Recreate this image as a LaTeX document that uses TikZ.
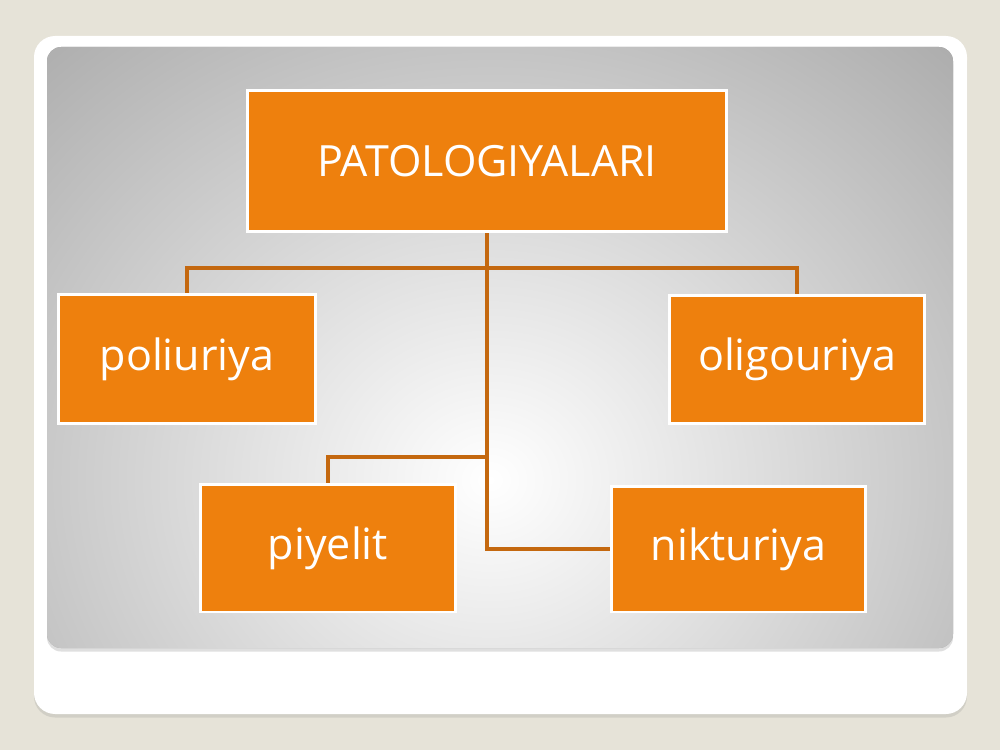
\documentclass[tikz,border=0pt]{standalone}
\usepackage{fontspec}
\setmainfont{Open Sans}
\usetikzlibrary{shadows}

\definecolor{slidebg}{HTML}{E6E3D8}
\definecolor{boxorange}{HTML}{EE800D}
\definecolor{linkbrown}{HTML}{C4680F}
\definecolor{panelgray}{HTML}{A2A2A2}

\tikzset{
  box/.style={draw=white, line width=1.7pt, fill=boxorange, text=white,
    font=\fontsize{24.5}{29}\selectfont, inner sep=0pt},
  link/.style={draw=linkbrown, line width=2.3pt}
}

\begin{document}
\begin{tikzpicture}[x=0.02cm, y=-0.02cm]
  % Slide background
  \fill[slidebg] (0,0) rectangle (1000,750);
  \useasboundingbox (0,0) rectangle (1000,750);

  % White panel
  \fill[white, rounded corners=12, drop shadow={opacity=0.2, shadow xshift=0pt, shadow yshift=-2pt}]
    (34,36) rectangle (967,714);

  % Gray panel with a light centre
  \fill[panelgray, drop shadow={opacity=0.25, shadow xshift=0pt, shadow yshift=-2pt}, rounded corners=8]
    (47,47) rectangle (953,648);
  \begin{scope}
    \clip[rounded corners=8] (47,47) rectangle (953,648);
    \shade[inner color=white, outer color=panelgray] (-270,-200) rectangle (1250,1160);
  \end{scope}

  % Boxes
  \node[box, minimum width=9.6cm, minimum height=2.84cm] (pat) at (487,161) {PATOLOGIYALARI};
  \node[box, minimum width=5.16cm, minimum height=2.6cm] (pol) at (187,359) {poliuriya};
  \node[box, minimum width=5.12cm, minimum height=2.58cm] (olig) at (797,359.5) {oligouriya};
  \node[box, minimum width=5.12cm, minimum height=2.56cm] (piy) at (328,548) {piyelit};
  \node[box, minimum width=5.1cm, minimum height=2.52cm] (nik) at (738.5,549) {nikturiya};

  % Links
  \coordinate (hub) at (487,268);
  \coordinate (fork) at (487,457);
  \draw[link] (pat.south) -- (pat.south |- nik.west) -- (nik.west);
  \draw[link] (pol.north) |- (hub) -| (olig.north);
  \draw[link] (piy.north) |- (fork);
\end{tikzpicture}
\end{document}
